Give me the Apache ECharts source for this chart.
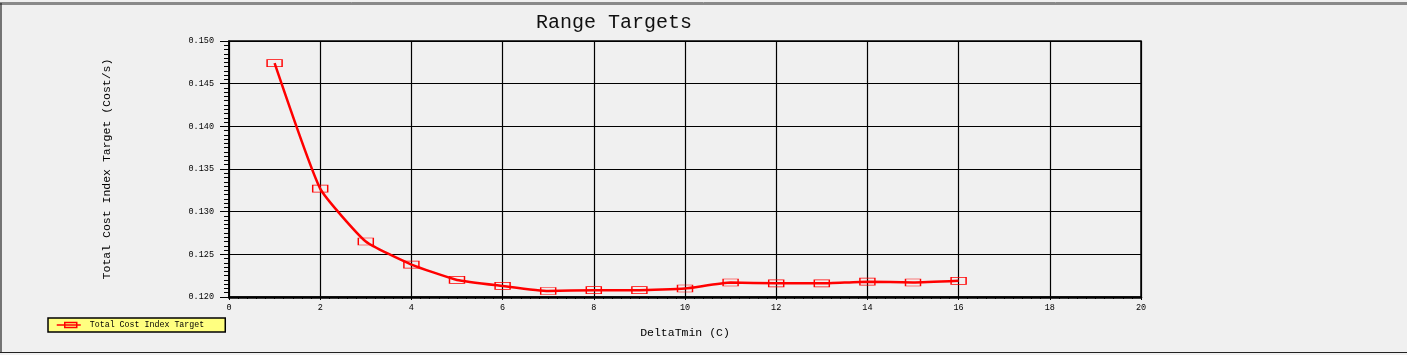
<!DOCTYPE html>
<html>
<head>
<meta charset="utf-8">
<style>
html,body{margin:0;padding:0;background:#f0f0f0;}
#chart{width:1407px;height:355px;}
</style>
<script src="https://cdn.jsdelivr.net/npm/echarts@6/dist/echarts.min.js"></script>
</head>
<body>
<div id="chart"></div>
<script>
const deltaTmin = [1, 2, 3, 4, 5, 6, 7, 8, 9, 10, 11, 12, 13, 14, 15, 16];
const costIndex = [0.1474, 0.1327, 0.1265, 0.1238, 0.1220, 0.1213, 0.1207, 0.1208, 0.1208, 0.1210, 0.1217, 0.1216, 0.1216, 0.1218, 0.1217, 0.1219];
const seriesName = 'Total Cost Index Target';
const titleText = 'Range Targets';
const xName = 'DeltaTmin (C)';
const yName = 'Total Cost Index Target (Cost/s)';

const font = '"Liberation Mono", "DejaVu Sans Mono", monospace';
const chart = echarts.init(document.getElementById('chart'), null, {renderer: 'canvas'});
chart.setOption({
  animation: false,
  backgroundColor: '#f0f0f0',
  title: {
    text: titleText, left: 609, top: 8, textAlign: 'center',
    textStyle: {fontFamily: font, fontSize: 20, fontWeight: 'normal', color: '#111'}
  },
  legend: {
    left: 48, top: 318,
    backgroundColor: '#ffff80', borderColor: '#000', borderWidth: 1.5,
    padding: [3, 21, 3, 8], itemWidth: 24, itemHeight: 6, itemGap: 0,
    icon: 'path://M0,3L24,3M8,0.5L20,0.5L20,5.5L8,5.5Z',
    itemStyle: {color: 'rgba(0,0,0,0)', borderColor: '#ff0000', borderWidth: 1.5},
    textStyle: {fontFamily: font, fontSize: 8.3, color: '#000', padding: [0, 0, 0, 4]},
    data: [seriesName]
  },
  grid: {
    left: 229, right: 266, top: 41, bottom: 58,
    show: true, borderColor: '#000', borderWidth: 1.5, backgroundColor: 'transparent'
  },
  xAxis: {
    type: 'value', min: 0, max: 20, interval: 2,
    name: xName, nameLocation: 'middle', nameGap: 30,
    nameTextStyle: {fontFamily: font, fontSize: 11.5, color: '#000'},
    axisLine: {show: true, onZero: false, lineStyle: {color: '#000', width: 2.5}},
    axisTick: {show: true, length: 3, lineStyle: {color: '#000'}},
    minorTick: {show: true, splitNumber: 10, length: 2, lineStyle: {color: '#000'}},
    axisLabel: {fontFamily: font, fontSize: 8.5, color: '#000', margin: 6},
    splitLine: {show: true, lineStyle: {color: '#000', width: 1.2}}
  },
  yAxis: {
    type: 'value', min: 0.12, max: 0.15, interval: 0.005,
    name: yName, nameLocation: 'middle', nameGap: 116, nameRotate: 90,
    nameTextStyle: {fontFamily: font, fontSize: 11.5, color: '#000'},
    axisLine: {show: true, lineStyle: {color: '#000', width: 1.5}},
    axisTick: {show: true, length: 9, lineStyle: {color: '#000'}},
    minorTick: {show: true, splitNumber: 10, length: 5, lineStyle: {color: '#000'}},
    axisLabel: {fontFamily: font, fontSize: 8.5, color: '#000', margin: 15,
      formatter: v => v.toFixed(3)},
    splitLine: {show: true, lineStyle: {color: '#000', width: 1.2}}
  },
  series: [{
    name: seriesName, type: 'line',
    data: deltaTmin.map((x, i) => [x, costIndex[i]]),
    smooth: 0.15,
    symbol: 'rect', symbolSize: [15, 7],
    lineStyle: {color: '#ff0000', width: 2.5},
    itemStyle: {color: 'rgba(0,0,0,0)', borderColor: '#ff0000', borderWidth: 1},
    z: 3
  }],
  graphic: [
    {type: 'line', shape: {x1: 0, y1: 2.5, x2: 1407, y2: 2.5}, style: {stroke: '#8a8a8a', lineWidth: 1}, silent: true},
    {type: 'line', shape: {x1: 0, y1: 4, x2: 1407, y2: 4}, style: {stroke: '#222', lineWidth: 1.2}, silent: true},
    {type: 'line', shape: {x1: 1, y1: 3, x2: 1, y2: 353}, style: {stroke: '#222', lineWidth: 1.2}, silent: true},
    {type: 'line', shape: {x1: 0, y1: 352.5, x2: 1407, y2: 352.5}, style: {stroke: '#222', lineWidth: 1.2}, silent: true}
  ]
});
</script>
</body>
</html>
